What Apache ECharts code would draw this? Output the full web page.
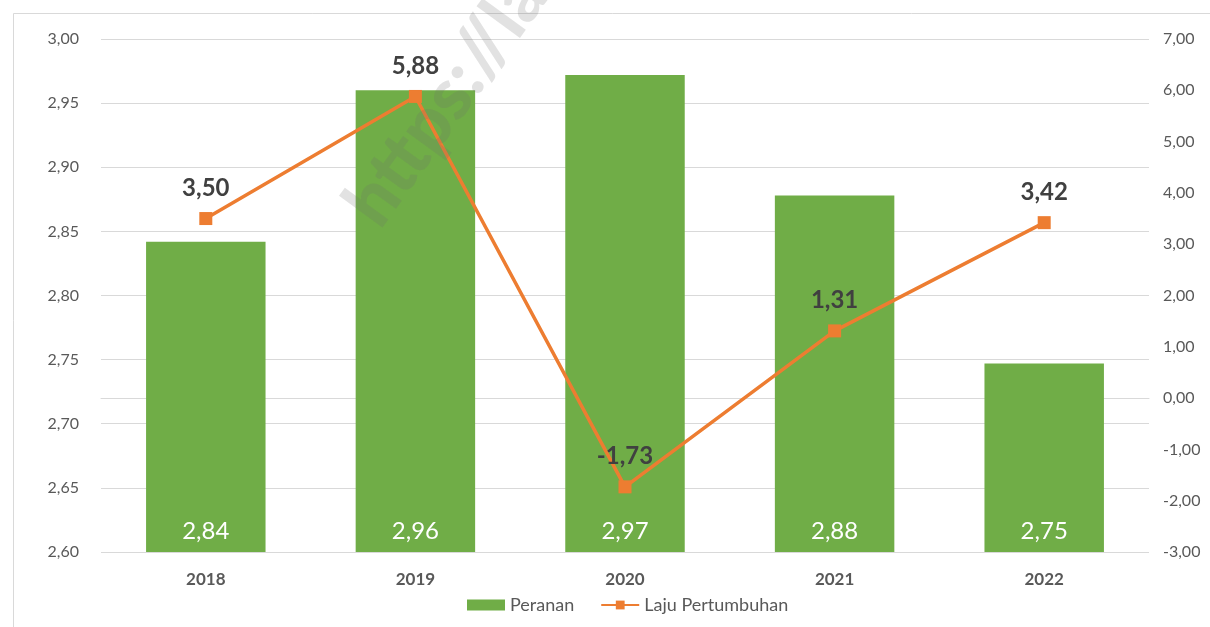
<!DOCTYPE html>
<html>
<head>
<meta charset="utf-8">
<script src="https://cdn.jsdelivr.net/npm/echarts@6/dist/echarts.min.js"></script>
<style>
  html, body { margin: 0; padding: 0; background: #fff; }
  #main { width: 1210px; height: 627px; }
</style>
</head>
<body>
<div id="main"></div>
<script>
// data
const years = ['2018', '2019', '2020', '2021', '2022'];
const peranan = [2.842, 2.960, 2.972, 2.878, 2.747];
const laju = [3.50, 5.88, -1.73, 1.31, 3.42];

const fontFam = 'Lato, "Open Sans", sans-serif';

function koma(v, d) {
    return Number(v).toFixed(d).replace('.', ',');
}

(function() {
    let chart = echarts.init(document.getElementById('main'));
    let option = {
        backgroundColor: '#fff',
        animation: false,
        textStyle: {fontFamily: fontFam},
        graphic: [
            {
                type: 'rect',
                shape: {x: 13.5, y: 13.5, width: 1200, height: 620},
                style: {fill: 'none', stroke: '#d9d9d9', lineWidth: 1},
                silent: true
            },
            {
                type: 'text',
                x: 332, y: 196,
                rotation: Math.PI * 0.3,
                style: {text: 'https://la', font: '900 72px ' + fontFam, fill: 'rgba(110,110,110,0.2)'},
                silent: true,
                z: 100
            }
        ],
        grid: {left: 101, right: 61, top: 39, bottom: 75},
        legend: {
            bottom: 8,
            left: 462,
            itemGap: 26,
            itemWidth: 38,
            itemHeight: 11,
            textStyle: {fontSize: 18, color: '#595959', fontFamily: fontFam},
            data: [
                {name: 'Peranan', icon: 'rect'},
                {name: 'Laju Pertumbuhan'}
            ]
        },
        xAxis: {
            type: 'category',
            data: years,
            axisLine: {lineStyle: {color: '#d9d9d9'}},
            axisTick: {show: false},
            axisLabel: {fontSize: 17, fontWeight: 'bold', color: '#595959', margin: 19}
        },
        yAxis: [
            {
                type: 'value',
                min: 2.6, max: 3.0, interval: 0.05,
                axisLabel: {fontSize: 16, color: '#595959', margin: 22, formatter: v => koma(v, 2)},
                axisLine: {show: false},
                axisTick: {show: false},
                splitLine: {lineStyle: {color: '#d9d9d9'}}
            },
            {
                type: 'value',
                min: -3, max: 7, interval: 1,
                axisLabel: {fontSize: 16, color: '#595959', margin: 14, formatter: v => koma(v, 2)},
                axisLine: {show: false},
                axisTick: {show: false},
                splitLine: {show: false}
            }
        ],
        series: [
            {
                name: 'Peranan',
                type: 'bar',
                yAxisIndex: 0,
                data: peranan,
                barWidth: '57%',
                itemStyle: {color: '#70ad47'},
                label: {
                    show: true,
                    position: 'insideBottom',
                    distance: 9,
                    color: '#fff',
                    fontSize: 24,
                    formatter: p => koma(p.value, 2)
                }
            },
            {
                name: 'Laju Pertumbuhan',
                type: 'line',
                yAxisIndex: 1,
                data: laju,
                symbol: 'rect',
                symbolSize: 13,
                lineStyle: {color: '#ed7d31', width: 3.5},
                itemStyle: {color: '#ed7d31'},
                label: {
                    show: true,
                    position: 'top',
                    distance: 12,
                    color: '#404040',
                    fontSize: 24,
                    fontWeight: 'bold',
                    formatter: p => koma(p.value, 2)
                },
                z: 5
            }
        ]
    };
    chart.setOption(option);
})();
</script>
</body>
</html>
